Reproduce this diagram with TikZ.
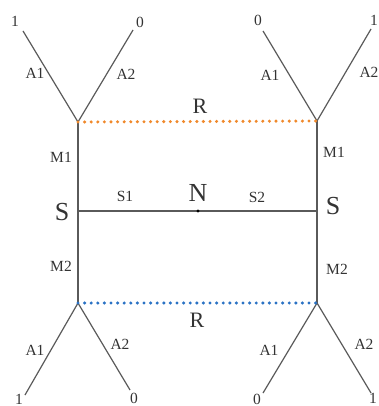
\documentclass[tikz,border=0pt]{standalone}
\usepackage{fontspec}
\setmainfont{Liberation Serif}
\definecolor{ln}{HTML}{5A5A5A}
\definecolor{txt}{HTML}{333333}
\definecolor{org}{HTML}{F0892B}
\definecolor{blu}{HTML}{2A72C4}
\begin{document}
\begin{tikzpicture}[x=1pt,y=-1pt,
  edge/.style={draw=ln,line width=1.2pt},
  dots/.style={line width=3.4pt,line cap=round,dash pattern=on 0pt off 6.6pt},
  lab/.style={inner sep=0pt,text=txt,font=\fontsize{15.5}{15.5}\selectfont},
  big/.style={inner sep=0pt,text=txt,font=\fontsize{22}{22}\selectfont},
  huge/.style={inner sep=0pt,text=txt,font=\fontsize{26}{26}\selectfont}]
\useasboundingbox (0,0) rectangle (379,406);
% vertices
\coordinate (TL) at (78,122);
\coordinate (TR) at (317,121);
\coordinate (BL) at (78,303);
\coordinate (BR) at (317,303);
\coordinate (SL) at (78,211);
\coordinate (SR) at (317,211);
\coordinate (N) at (198,211);
% branch ends
\coordinate (tl1) at (23,31);
\coordinate (tl2) at (133,30);
\coordinate (tr1) at (263,31);
\coordinate (tr2) at (371,29);
\coordinate (bl1) at (25,395);
\coordinate (bl2) at (130,390);
\coordinate (br1) at (263,393);
\coordinate (br2) at (371,393);
% lines
\draw[edge] (tl1) -- (TL) -- (tl2);
\draw[edge] (tr1) -- (TR) -- (tr2);
\draw[edge] (bl1) -- (BL) -- (bl2);
\draw[edge] (br1) -- (BR) -- (br2);
\draw[edge] (TL) -- (BL);
\draw[edge] (TR) -- (BR);
\draw[edge] (SL) -- (SR);
\fill[black] (N) circle (1.6pt);
\draw[dots,draw=org] (TL) -- (TR);
\draw[dots,draw=blu] (BL) -- (BR);
% end labels
\node[lab] (n1) at (15,21) {1};
\node[lab] (n2) at (140,22) {0};
\node[lab] (n3) at (258,20) {0};
\node[lab] (n4) at (374,20) {1};
\node[lab] (n5) at (19,399) {1};
\node[lab] (n6) at (134,398) {0};
\node[lab] (n7) at (257,399) {0};
\node[lab] (n8) at (373,398) {1};
% branch labels
\node[lab] (a1) at (35,73) {A1};
\node[lab] (a2) at (126,74) {A2};
\node[lab] (a3) at (270,75) {A1};
\node[lab] (a4) at (369,72) {A2};
\node[lab] (a5) at (35,350) {A1};
\node[lab] (a6) at (120,344) {A2};
\node[lab] (a7) at (269,350) {A1};
\node[lab] (a8) at (364,344) {A2};
% M labels
\node[lab] (m1) at (61,157) {M1};
\node[lab] (m2) at (334,152) {M1};
\node[lab] (m3) at (61,266) {M2};
\node[lab] (m4) at (337,269) {M2};
% S labels
\node[lab] (s1) at (125,196) {S1};
\node[lab] (s2) at (257,197) {S2};
\node[huge] (sl) at (62,212) {S};
\node[huge] (sr) at (333,206) {S};
\node[huge] (nl) at (198,193) {N};
\node[big] (r1) at (200,106) {R};
\node[big] (r2) at (197,320) {R};
\end{tikzpicture}
\end{document}
